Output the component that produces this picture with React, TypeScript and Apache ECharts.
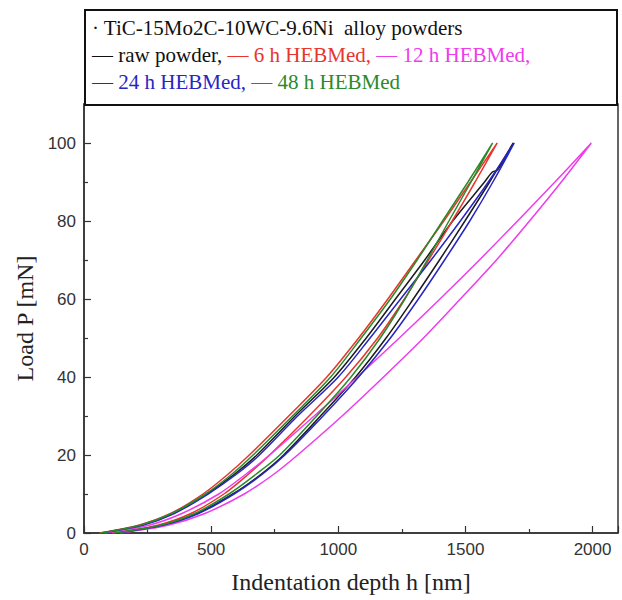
import React, { useEffect, useRef } from "react";
import * as echarts from "echarts";

// Load levels (mN) shared by the branches
const loadP = [0, 2, 5, 10, 15, 20, 30, 40, 50, 60, 70, 80, 90, 100];

// raw powder (black) – loading branch has a small excursion near 92 mN
const rawUpP = [0, 2, 5, 10, 15, 20, 30, 40, 50, 60, 70, 80, 90, 92.5, 93, 96, 100];
const rawUpH = [65, 225, 350, 482, 590, 680, 830, 985, 1110, 1225, 1340, 1450, 1575, 1605, 1625, 1655, 1688];
const rawDownH = [125, 305, 445, 585, 695, 785, 930, 1068, 1188, 1295, 1398, 1498, 1595, 1688];

// 6 h HEBMed (red)
const h6UpH = [60, 215, 340, 468, 565, 650, 805, 955, 1080, 1195, 1305, 1415, 1520, 1625];
const h6DownH = [110, 290, 420, 550, 645, 730, 885, 1030, 1155, 1260, 1355, 1448, 1538, 1625];

// 12 h HEBMed (magenta)
const h12UpH = [80, 255, 385, 530, 635, 730, 905, 1075, 1240, 1400, 1555, 1705, 1852, 1995];
const h12DownH = [140, 330, 475, 630, 745, 840, 1015, 1178, 1335, 1480, 1622, 1752, 1877, 1995];

// 24 h HEBMed (blue)
const h24UpH = [70, 230, 355, 488, 598, 690, 840, 1000, 1125, 1245, 1365, 1480, 1590, 1692];
const h24DownH = [130, 310, 450, 590, 700, 790, 940, 1080, 1205, 1315, 1418, 1517, 1608, 1692];

// 48 h HEBMed (green)
const h48UpH = [65, 220, 345, 478, 580, 665, 820, 970, 1090, 1205, 1310, 1410, 1510, 1607];
const h48DownH = [120, 300, 435, 570, 675, 770, 915, 1050, 1165, 1262, 1350, 1435, 1522, 1607];

const seriesNames = ["raw powder", "6 h HEBMed", "12 h HEBMed", "24 h HEBMed", "48 h HEBMed"];
const seriesColors = ["#1c1c1c", "#e8352e", "#ee3cec", "#2626c4", "#2a8a2a"];

const xTicks = { min: 0, max: 2100, interval: 500 };
const yTicks = { min: 0, max: 110, interval: 20 };

function loop(upP: number[], upH: number[], downP: number[], downH: number[]) {
  const up = upH.map((h, i) => [h, upP[i]]);
  const down = downH.map((h, i) => [h, downP[i]]).reverse();
  return up.concat(down.slice(1));
}

export default function App() {
  const ref = useRef<HTMLDivElement>(null);
  useEffect(() => {
    if (!ref.current) return;
    const chart = echarts.init(ref.current, null, { renderer: "svg" });
    const datasets = [
      loop(rawUpP, rawUpH, loadP, rawDownH),
      loop(loadP, h6UpH, loadP, h6DownH),
      loop(loadP, h12UpH, loadP, h12DownH),
      loop(loadP, h24UpH, loadP, h24DownH),
      loop(loadP, h48UpH, loadP, h48DownH),
    ];
    const serif = "Liberation Serif";
    const sans = "Liberation Sans";
    const fs = 21;
    const tok = (c: string) => ({ fill: c, fontFamily: serif, fontSize: fs });
    chart.setOption({
      animation: false,
      backgroundColor: "#ffffff",
      grid: {
        left: 84,
        right: 4,
        top: 104,
        bottom: 67,
        show: true,
        borderColor: "#333",
        borderWidth: 1.5,
      },
      xAxis: {
        type: "value",
        min: xTicks.min,
        max: xTicks.max,
        interval: xTicks.interval,
        name: "Indentation depth h [nm]",
        nameLocation: "middle",
        nameGap: 37,
        nameTextStyle: { fontFamily: serif, fontSize: 24, color: "#222" },
        axisLine: { show: true, lineStyle: { color: "#333", width: 1.5 } },
        axisTick: { show: true, inside: true, length: 7, lineStyle: { color: "#333", width: 1.2 } },
        minorTick: { show: true, splitNumber: 2, length: 4, lineStyle: { color: "#333", width: 1.2 } },
        splitLine: { show: false },
        axisLabel: {
          fontFamily: sans,
          fontSize: 17,
          color: "#333",
          margin: 8,
          showMaxLabel: false,
          formatter: (v: number) => String(v),
        },
      },
      yAxis: {
        type: "value",
        min: yTicks.min,
        max: yTicks.max,
        interval: yTicks.interval,
        name: "Load P [mN]",
        nameLocation: "middle",
        nameGap: 43,
        nameRotate: 90,
        nameTextStyle: { fontFamily: serif, fontSize: 24, color: "#222" },
        axisLine: { show: true, lineStyle: { color: "#333", width: 1.5 } },
        axisTick: { show: true, inside: true, length: 7, lineStyle: { color: "#333", width: 1.2 } },
        minorTick: { show: true, splitNumber: 2, length: 4, lineStyle: { color: "#333", width: 1.2 } },
        splitLine: { show: false },
        axisLabel: {
          fontFamily: sans,
          fontSize: 17,
          color: "#333",
          margin: 8,
          showMaxLabel: false,
          formatter: (v: number) => String(v),
        },
      },
      series: datasets.map((d, i) => ({
        name: seriesNames[i],
        type: "line",
        data: d,
        showSymbol: false,
        smooth: 0.3,
        lineStyle: { color: seriesColors[i], width: 1.5 },
        itemStyle: { color: seriesColors[i] },
        z: 2 + i,
      })),
      graphic: [
        {
          type: "rect",
          shape: { x: 85, y: 10, width: 532, height: 95 },
          style: { fill: "#fff", stroke: "#111", lineWidth: 2 },
          z: 10,
        },
        {
          type: "text",
          x: 92,
          y: 28,
          z: 11,
          style: {
            text: "· TiC-15Mo2C-10WC-9.6Ni  alloy powders",
            fontFamily: serif,
            fontSize: fs,
            fill: "#111",
            verticalAlign: "middle",
          },
        },
        {
          type: "text",
          x: 92,
          y: 55,
          z: 11,
          style: {
            text: "{k|— raw powder,} {r|— 6 h HEBMed,} {m|— 12 h HEBMed,}",
            fontFamily: serif,
            fontSize: fs,
            verticalAlign: "middle",
            rich: { k: tok("#111"), r: tok(seriesColors[1]), m: tok(seriesColors[2]) },
          },
        },
        {
          type: "text",
          x: 92,
          y: 82,
          z: 11,
          style: {
            text: "{b|— 24 h HEBMed,} {g|— 48 h HEBMed}",
            fontFamily: serif,
            fontSize: fs,
            verticalAlign: "middle",
            rich: { b: tok(seriesColors[3]), g: tok(seriesColors[4]) },
          },
        },
      ],
    });
    return () => chart.dispose();
  }, []);
  return (
    <div
      ref={ref}
      style={{ position: "absolute", left: 0, top: 0, width: 622, height: 600, background: "#fff" }}
    />
  );
}
